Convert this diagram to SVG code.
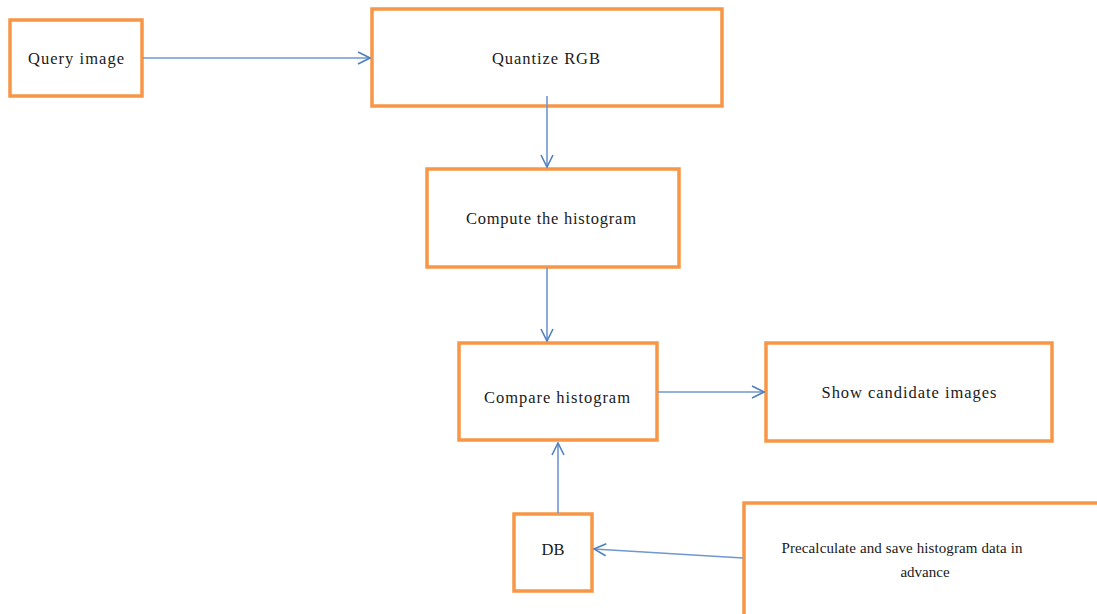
<svg xmlns="http://www.w3.org/2000/svg" width="1097" height="614" viewBox="0 0 1097 614">
<style>
.box{fill:#fff;stroke:#F79646;stroke-width:3.5}
.lbl{font-family:"Liberation Serif","Times New Roman",serif;font-size:16.5px;fill:#1a1a1a;text-anchor:middle}
.sm{font-size:15px}
.con{stroke:#6F97D0;stroke-width:1.6;fill:none}
</style>
<defs>
<marker id="arr" viewBox="0 0 14 14" refX="13" refY="7" markerWidth="14" markerHeight="14" markerUnits="userSpaceOnUse" orient="auto">
<path d="M1,1 L13,7 L1,13" fill="none" stroke="#4F81BD" stroke-width="1.6"/>
</marker>
</defs>
<rect width="1097" height="614" fill="#fff"/>
<g id="query"><rect class="box" x="10" y="20" width="132" height="76"/><text class="lbl" x="76" y="64" textLength="96" lengthAdjust="spacing">Query image</text></g>
<g id="quantize"><rect class="box" x="372" y="9" width="350" height="97"/><text class="lbl" x="546" y="64" textLength="108" lengthAdjust="spacing">Quantize RGB</text></g>
<g id="compute"><rect class="box" x="427" y="169" width="252" height="98"/><text class="lbl" x="551" y="224" textLength="170" lengthAdjust="spacing">Compute the histogram</text></g>
<g id="compare"><rect class="box" x="459" y="343" width="198" height="97"/><text class="lbl" x="557" y="403" textLength="146" lengthAdjust="spacing">Compare histogram</text></g>
<g id="show"><rect class="box" x="766" y="343" width="286" height="98"/><text class="lbl" x="909" y="398" textLength="175" lengthAdjust="spacing">Show candidate images</text></g>
<g id="db"><rect class="box" x="514" y="514" width="78" height="77"/><text class="lbl" x="553" y="555">DB</text></g>
<g id="precalc"><rect class="box" x="744" y="503" width="360" height="120"/><text class="lbl sm" x="902" y="553" textLength="241" lengthAdjust="spacing">Precalculate and save histogram data in</text><text class="lbl sm" x="925" y="577">advance</text></g>
<g id="connectors">
<line class="con" x1="143" y1="58" x2="370" y2="58" marker-end="url(#arr)"/>
<line class="con" x1="547" y1="96" x2="547" y2="167" marker-end="url(#arr)"/>
<line class="con" x1="547" y1="268" x2="547" y2="341" marker-end="url(#arr)"/>
<line class="con" x1="658" y1="392" x2="764" y2="392" marker-end="url(#arr)"/>
<line class="con" x1="558" y1="513" x2="558" y2="443" marker-end="url(#arr)"/>
<line class="con" x1="743" y1="558" x2="594" y2="549" marker-end="url(#arr)"/>
</g>
</svg>
